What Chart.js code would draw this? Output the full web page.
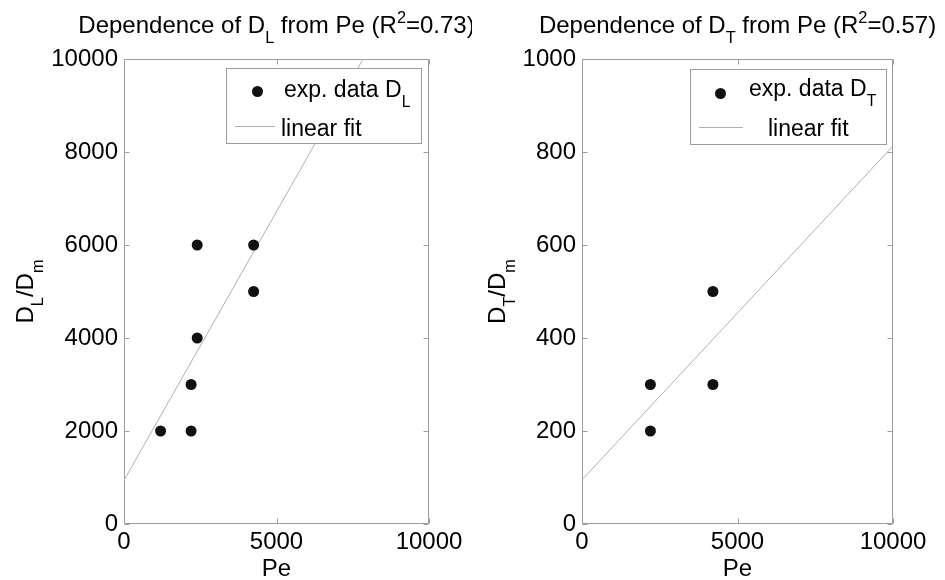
<!DOCTYPE html>
<html>
<head>
<meta charset="utf-8">
<script src="https://cdn.jsdelivr.net/npm/chart.js@4/dist/chart.umd.min.js"></script>
<style>
  html, body { margin: 0; padding: 0; background: #fff; }
  #wrap { position: relative; width: 945px; height: 580px; overflow: hidden; }
  #wrap canvas { position: absolute; top: 0; }
</style>
</head>
<body>
<div id="wrap">
  <canvas id="chartL" width="472" height="580" style="left:0"></canvas>
  <canvas id="chartT" width="473" height="580" style="left:472px"></canvas>
</div>
<script>
// ─── DATA ──────────────────────────────────────────────────
const PE_TICKS = [0, 5000, 10000];
const DL_TICKS = [0, 2000, 4000, 6000, 8000, 10000];
const DT_TICKS = [0, 200, 400, 600, 800, 1000];

// longitudinal dispersion
const peL = [1200, 2200, 2200, 2400, 2400, 4250, 4250];
const dL  = [2000, 2000, 3000, 4000, 6000, 6000, 5000];
const fitPeL = [0, 7840];
const fitDL  = [940, 10000];

// transverse dispersion
const peT = [2200, 2200, 4210, 4210];
const dT  = [200, 300, 300, 500];
const fitPeT = [0, 10000];
const fitDT  = [95, 813];

// ─── STYLE ─────────────────────────────────────────────────
const FONT = '"Liberation Sans", Arial, Helvetica, sans-serif';
const FRAME = '#9c9c9c';
const FIT = '#b0b0b0';
const DOT = '#111111';
const SIZE = 24;

function pts(xs, ys) {
  return xs.map((x, i) => ({ x, y: ys[i] }));
}

// text with sub/superscripts: parts = [[text, ''|'sub'|'sup'], ...]
function richWidth(ctx, parts, size) {
  let w = 0;
  parts.forEach(([t, m]) => {
    ctx.font = (m ? size * 0.68 : size) + 'px ' + FONT;
    w += ctx.measureText(t).width;
  });
  return w;
}

function drawRich(ctx, parts, x, y, size, align) {
  const w = richWidth(ctx, parts, size);
  let cx = align === 'center' ? x - w / 2 : x;
  ctx.textAlign = 'left';
  ctx.textBaseline = 'alphabetic';
  ctx.fillStyle = '#000';
  parts.forEach(([t, m]) => {
    const s = m ? size * 0.68 : size;
    ctx.font = s + 'px ' + FONT;
    const dy = m === 'sub' ? size * 0.42 : m === 'sup' ? -size * 0.4 : 0;
    ctx.fillText(t, cx, y + dy);
    cx += ctx.measureText(t).width;
  });
}

// ─── MATLAB-LIKE DECORATION PLUGIN ─────────────────────────
const decor = {
  id: 'decor',
  beforeDatasetsDraw(chart) {
    const ctx = chart.ctx;
    const a = chart.chartArea;
    const L = Math.round(a.left) + 0.5, R = Math.round(a.right) - 0.5;
    const T = Math.round(a.top) + 0.5, B = Math.round(a.bottom) - 0.5;
    ctx.save();
    ctx.strokeStyle = FRAME;
    ctx.lineWidth = 1;
    ctx.beginPath();
    ctx.rect(L, T, R - L, B - T);
    const xs = chart.scales.x, ys = chart.scales.y;
    xs.ticks.forEach(t => {
      const px = Math.round(xs.getPixelForValue(t.value)) + 0.5;
      ctx.moveTo(px, B); ctx.lineTo(px, B - 5);
      ctx.moveTo(px, T); ctx.lineTo(px, T + 5);
    });
    ys.ticks.forEach(t => {
      const py = Math.round(ys.getPixelForValue(t.value)) + 0.5;
      ctx.moveTo(L, py); ctx.lineTo(L + 5, py);
      ctx.moveTo(R, py); ctx.lineTo(R - 5, py);
    });
    ctx.stroke();
    ctx.restore();
  },
  afterDatasetsDraw(chart, args, o) {
    const ctx = chart.ctx;
    const a = chart.chartArea;
    const lg = o.legend;
    ctx.save();
    // legend box
    ctx.fillStyle = '#fff';
    ctx.fillRect(lg.x, lg.y, lg.w, lg.h);
    ctx.strokeStyle = FRAME;
    ctx.lineWidth = 1;
    ctx.strokeRect(lg.x + 0.5, lg.y + 0.5, lg.w, lg.h);
    ctx.fillStyle = DOT;
    ctx.beginPath();
    ctx.arc(lg.dotX, lg.dotY, 5.5, 0, Math.PI * 2);
    ctx.fill();
    ctx.strokeStyle = FIT;
    ctx.beginPath();
    ctx.moveTo(lg.lineX1, lg.lineY + 0.5);
    ctx.lineTo(lg.lineX2, lg.lineY + 0.5);
    ctx.stroke();
    drawRich(ctx, [['exp. data D', ''], [o.sub, 'sub']], lg.t1x, lg.t1y, 23, 'left');
    drawRich(ctx, [['linear fit', '']], lg.t2x, lg.t2y, 23, 'left');

    // title
    const cx = (a.left + a.right) / 2;
    drawRich(ctx, [['Dependence of D', ''], [o.sub, 'sub'], [' from Pe (R', ''], ['2', 'sup'], ['=' + o.r2 + ')', '']], cx, 33, SIZE, 'center');
    // x title
    drawRich(ctx, [['Pe', '']], cx, 576, SIZE, 'center');
    // y title (rotated)
    ctx.save();
    ctx.translate(o.yTitleX, (a.top + a.bottom) / 2);
    ctx.rotate(-Math.PI / 2);
    drawRich(ctx, [['D', ''], [o.sub, 'sub'], ['/D', ''], ['m', 'sub']], 0, 0, SIZE, 'center');
    ctx.restore();
    ctx.restore();
  }
};

function makeChart(id, cfg) {
  return new Chart(document.getElementById(id), {
    type: 'scatter',
    data: {
      datasets: [
        {
          label: 'exp. data',
          data: cfg.points,
          pointRadius: 5.5,
          pointHoverRadius: 5.5,
          backgroundColor: DOT,
          borderWidth: 0
        },
        {
          label: 'linear fit',
          data: cfg.fit,
          showLine: true,
          pointRadius: 0,
          borderColor: FIT,
          borderWidth: 1
        }
      ]
    },
    options: {
      responsive: false,
      animation: false,
      devicePixelRatio: 1,
      layout: { padding: { top: 59, right: cfg.padRight, left: 0, bottom: 0 } },
      plugins: {
        legend: { display: false },
        tooltip: { enabled: false },
        decor: cfg.decor
      },
      scales: {
        x: {
          type: 'linear',
          min: 0, max: 10000,
          afterBuildTicks: s => { s.ticks = PE_TICKS.map(v => ({ value: v })); },
          afterFit: s => { s.height = 56; },
          grid: { display: false, drawTicks: false },
          border: { display: false },
          ticks: { color: '#000', padding: 4, maxRotation: 0, callback: v => String(v),
                   font: { family: FONT, size: SIZE } }
        },
        y: {
          type: 'linear',
          min: 0, max: cfg.yTicks[cfg.yTicks.length - 1],
          afterBuildTicks: s => { s.ticks = cfg.yTicks.map(v => ({ value: v })); },
          afterFit: s => { s.width = cfg.yWidth; },
          grid: { display: false, drawTicks: false },
          border: { display: false },
          ticks: { color: '#000', padding: 6, callback: v => String(v),
                   font: { family: FONT, size: SIZE } }
        }
      }
    },
    plugins: [decor]
  });
}

// ─── INITIALIZE ────────────────────────────────────────────
makeChart('chartL', {
  points: pts(peL, dL),
  fit: pts(fitPeL, fitDL),
  yTicks: DL_TICKS,
  yWidth: 124,
  padRight: 43,
  decor: {
    sub: 'L', r2: '0.73', yTitleX: 33,
    legend: { x: 226, y: 68, w: 195, h: 75, dotX: 257.5, dotY: 91.5,
              lineX1: 235, lineX2: 275, lineY: 126, t1x: 284, t1y: 97, t2x: 281, t2y: 136 }
  }
});

const OFF = 472;
makeChart('chartT', {
  points: pts(peT, dT),
  fit: pts(fitPeT, fitDT),
  yTicks: DT_TICKS,
  yWidth: 110,
  padRight: 52,
  decor: {
    sub: 'T', r2: '0.57', yTitleX: 505 - OFF,
    legend: { x: 690 - OFF, y: 69, w: 196, h: 75, dotX: 720.5 - OFF, dotY: 93.5,
              lineX1: 699 - OFF, lineX2: 743 - OFF, lineY: 127, t1x: 749 - OFF, t1y: 96, t2x: 768 - OFF, t2y: 136 }
  }
});
</script>
</body>
</html>
